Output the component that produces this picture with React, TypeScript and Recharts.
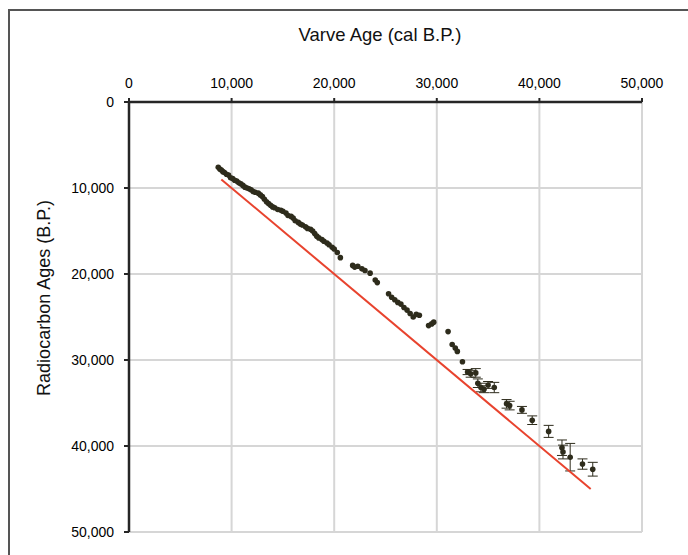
import {
  ScatterChart,
  Scatter,
  XAxis,
  YAxis,
  CartesianGrid,
  ErrorBar,
} from "recharts";

// varve age (cal B.P.) vs radiocarbon age (B.P.)
const varveAge = [
  8700, 8850, 9000, 9150, 9300, 9500, 9700, 9900, 10100, 10300, 10500, 10700,
  10900, 11100, 11300, 11500, 11700, 11900, 12100, 12300, 12600, 12800, 13000,
  13200, 13400, 13600, 13800, 14000, 14200, 14500, 14800, 15000, 15300, 15500,
  15800, 16000, 16200, 16500, 16700, 16900, 17200, 17400, 17700, 17900, 18100,
  18300, 18500, 18800, 19000, 19300, 19500, 19800, 20000, 20300, 20600,
  21800, 22000, 22300, 22700, 23000, 23500, 24000, 24200, 25300, 25600, 25900,
  26200, 26500, 26800, 27100, 27400, 27700, 28000, 28300, 29200, 29500, 29700,
  31100, 31500, 31800, 32000, 32500, 33000, 33300, 33800, 34000, 34300, 34600,
  35000, 35600, 36800, 37100, 38300, 39300, 40900, 42200, 42300, 43000, 44200,
  45200,
];
const radiocarbonAge = [
  7600, 7800, 7900, 8100, 8200, 8400, 8500, 8800, 8900, 9100, 9200, 9400, 9500,
  9700, 9900, 10000, 10100, 10200, 10400, 10500, 10600, 10800, 11000, 11300,
  11600, 11800, 12000, 12200, 12300, 12500, 12600, 12700, 12900, 13200, 13300,
  13500, 13800, 14000, 14200, 14300, 14500, 14700, 14800, 15000, 15300, 15600,
  15800, 16000, 16200, 16400, 16600, 16900, 17100, 17500, 18100,
  19000, 19200, 19100, 19400, 19600, 19900, 20700, 21000, 22300, 22700, 23000,
  23300, 23500, 23900, 24200, 24600, 25000, 24700, 24800, 26000, 25800, 25600,
  26700, 28200, 28600, 29000, 30200, 31400, 31600, 31500, 32700, 33200, 33400,
  32900, 33200, 35100, 35300, 35800, 37000, 38300, 40200, 40700, 41300, 42100,
  42700,
];
const radiocarbonErr = [
  0, 0, 0, 0, 0, 0, 0, 0, 0, 0, 0, 0, 0, 0, 0, 0, 0, 0, 0, 0, 0, 0, 0, 0, 0, 0,
  0, 0, 0, 0, 0, 0, 0, 0, 0, 0, 0, 0, 0, 0, 0, 0, 0, 0, 0, 0, 0, 0, 0, 0, 0, 0,
  0, 0, 0,
  0, 0, 0, 0, 0, 0, 0, 0, 0, 0, 0, 0, 0, 0, 0, 0, 0, 0, 0, 0, 0, 0,
  0, 0, 0, 0, 0, 300, 400, 500, 500, 500, 400, 400, 600, 500, 500, 400, 500,
  700, 900, 800, 1600, 600, 800,
];

// 1:1 line
const lineVarve = [9000, 45000];
const lineRadio = [9000, 45000];

const axisTicks = [0, 10000, 20000, 30000, 40000, 50000];

const points = varveAge.map((x, i) => ({
  x,
  y: radiocarbonAge[i],
  err: radiocarbonErr[i],
}));
const oneToOne = lineVarve.map((x, i) => ({ x, y: lineRadio[i] }));

const fmt = (v: number) => v.toLocaleString("en-US");
const font = "'Liberation Sans', Arial, sans-serif";
const dark = "#262626";
const pointColor = "#2e2c1c";

const Dot = (props: any) => (
  <circle cx={props.cx} cy={props.cy} r={2.8} fill={pointColor} />
);

export default function App() {
  return (
    <div
      style={{
        position: "absolute",
        left: 0,
        top: 0,
        width: 688,
        height: 555,
        background: "#fff",
        overflow: "hidden",
        fontFamily: font,
      }}
    >
      {/* frame: only top and left edges show in the crop */}
      <div
        style={{
          position: "absolute",
          left: 8,
          top: 9,
          width: 680,
          height: 2,
          background: "#555",
        }}
      />
      <div
        style={{
          position: "absolute",
          left: 8,
          top: 9,
          width: 2,
          height: 546,
          background: "#555",
        }}
      />
      <div
        style={{
          position: "absolute",
          left: 0,
          top: 24,
          width: 760,
          textAlign: "center",
          fontSize: 18.5,
          color: "#111",
        }}
      >
        Varve Age (cal B.P.)
      </div>
      <div
        style={{
          position: "absolute",
          left: 44,
          top: 298,
          transform: "translate(-50%, -50%) rotate(-90deg)",
          whiteSpace: "nowrap",
          fontSize: 18,
          color: "#111",
        }}
      >
        Radiocarbon Ages (B.P.)
      </div>
      <div style={{ position: "absolute", left: 0, top: 0 }}>
        <ScatterChart
          width={688}
          height={555}
          margin={{ top: 72, left: 69, right: 46, bottom: 23 }}
        >
          <CartesianGrid stroke="#d6d6d6" strokeWidth={2} />
          <XAxis
            type="number"
            dataKey="x"
            orientation="top"
            domain={[0, 50000]}
            ticks={axisTicks}
            tickFormatter={fmt}
            height={30}
            tickSize={4}
            tickMargin={10}
            axisLine={{ stroke: dark, strokeWidth: 2.5 }}
            tickLine={{ stroke: dark, strokeWidth: 2 }}
            tick={{ fontSize: 14, fill: "#000", fontFamily: font }}
            allowDataOverflow
          />
          <YAxis
            type="number"
            dataKey="y"
            reversed
            domain={[0, 50000]}
            ticks={axisTicks}
            tickFormatter={fmt}
            width={60}
            tickSize={5}
            tickMargin={10}
            axisLine={{ stroke: dark, strokeWidth: 2.5 }}
            tickLine={{ stroke: dark, strokeWidth: 2 }}
            tick={{ fontSize: 14, fill: "#000", fontFamily: font }}
            allowDataOverflow
          />
          <Scatter
            data={oneToOne}
            line={{ stroke: "#e8432e", strokeWidth: 2 }}
            shape={() => <g />}
            isAnimationActive={false}
          />
          <Scatter data={points} shape={Dot} isAnimationActive={false}>
            <ErrorBar
              dataKey="err"
              direction="y"
              width={5}
              stroke={pointColor}
              strokeWidth={1}
            />
          </Scatter>
        </ScatterChart>
      </div>
    </div>
  );
}
